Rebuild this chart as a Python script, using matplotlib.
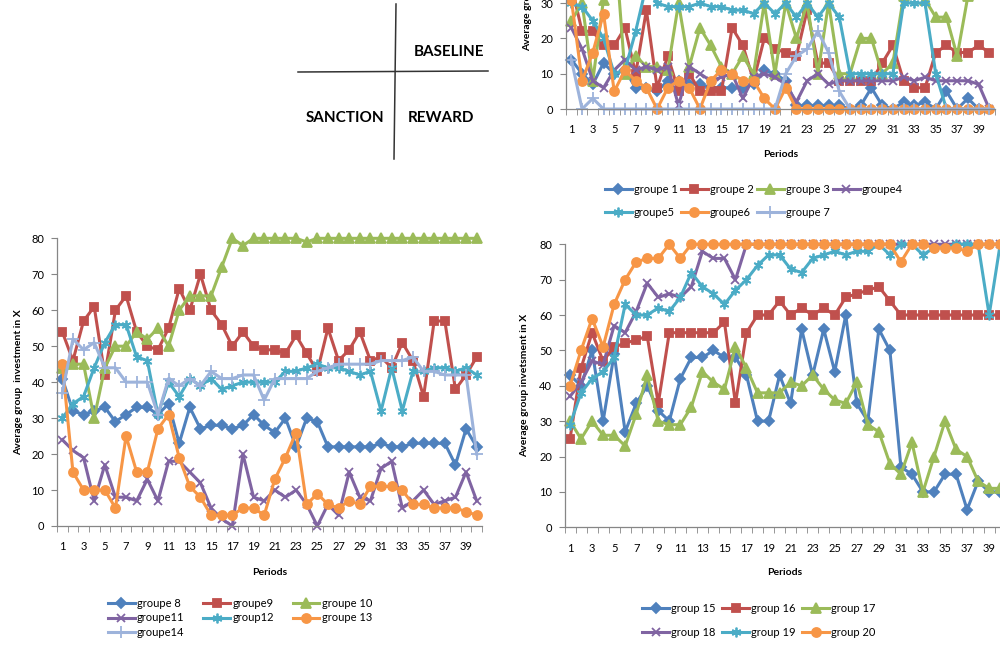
import matplotlib
matplotlib.use('Agg')
import matplotlib.pyplot as plt
from matplotlib.lines import Line2D
import numpy as np

plt.rcParams['font.family'] = ['Lato', 'DejaVu Sans']

periods = np.arange(1, 41)

# BASELINE (top right)
g1 = [14, 10, 7, 13, 10, 11, 6, 6, 5, 8, 8, 7, 7, 6, 6, 6, 6, 7, 11, 10,
      8, 1, 1, 1, 1, 1, 0, 1, 6, 1, 0, 2, 1, 2, 0, 5, 0, 3, 0, 0]
g2 = [35, 22, 22, 18, 18, 23, 10, 28, 6, 15, 5, 10, 5, 5, 5, 23, 18, 8, 20, 17,
      16, 15, 28, 13, 13, 8, 8, 8, 8, 13, 18, 8, 6, 6, 16, 18, 16, 16, 18, 16]
g3 = [25, 30, 8, 31, 50, 10, 15, 12, 12, 11, 30, 12, 23, 18, 12, 10, 15, 10, 30, 10,
      30, 20, 30, 10, 30, 10, 10, 20, 20, 10, 13, 32, 40, 31, 26, 26, 15, 32, 40, 40]
g4 = [23, 17, 8, 6, 11, 14, 11, 12, 11, 12, 1, 12, 10, 8, 9, 10, 3, 9, 10, 9,
      7, 2, 8, 10, 7, 8, 8, 8, 8, 8, 8, 9, 8, 9, 8, 8, 8, 8, 7, 0]
g5 = [30, 29, 25, 20, 10, 11, 22, 35, 30, 29, 29, 29, 30, 29, 29, 28, 28, 27, 30, 27,
      30, 26, 30, 26, 30, 26, 10, 10, 10, 10, 10, 30, 30, 30, 10, 0, 0, 0, 0, 0]
g6 = [31, 8, 16, 27, 5, 11, 8, 6, 0, 6, 8, 6, 0, 8, 11, 10, 8, 8, 3, 0,
      6, 0, 0, 0, 0, 0, 0, 0, 0, 0, 0, 0, 0, 0, 0, 0, 0, 0, 0, 0]
g7 = [14, 0, 3, 0, 0, 0, 0, 0, 0, 0, 0, 0, 0, 0, 0, 0, 0, 0, 0, 0,
      10, 15, 17, 22, 16, 5, 0, 0, 0, 0, 0, 0, 0, 0, 0, 0, 0, 0, 0, 0]

# SANCTION (bottom left)
g8 = [41, 32, 31, 32, 33, 29, 31, 33, 33, 31, 34, 23, 33, 27, 28, 28, 27, 28, 31, 28,
      26, 30, 22, 30, 29, 22, 22, 22, 22, 22, 23, 22, 22, 23, 23, 23, 23, 17, 27, 22]
g9 = [54, 46, 57, 61, 42, 60, 64, 54, 50, 49, 55, 66, 60, 70, 60, 56, 50, 54, 50, 49,
      49, 48, 53, 48, 43, 55, 46, 49, 54, 46, 47, 44, 51, 46, 36, 57, 57, 38, 42, 47]
g10 = [44, 45, 45, 30, 44, 50, 50, 54, 52, 55, 50, 60, 64, 64, 64, 72, 80, 78, 80, 80,
       80, 80, 80, 79, 80, 80, 80, 80, 80, 80, 80, 80, 80, 80, 80, 80, 80, 80, 80, 80]
g11 = [24, 21, 19, 7, 17, 8, 8, 7, 13, 7, 18, 18, 15, 12, 5, 2, 0, 20, 8, 7,
       10, 8, 10, 6, 0, 6, 3, 15, 8, 7, 16, 18, 5, 7, 10, 6, 7, 8, 15, 7]
g12 = [30, 34, 36, 44, 51, 56, 56, 47, 46, 31, 40, 36, 41, 39, 41, 38, 39, 40, 40, 40,
       40, 43, 43, 44, 45, 44, 44, 43, 42, 43, 32, 44, 32, 43, 43, 44, 44, 43, 44, 42]
g13 = [45, 15, 10, 10, 10, 5, 25, 15, 15, 27, 31, 19, 11, 8, 3, 3, 3, 5, 5, 3,
       13, 19, 26, 6, 9, 6, 5, 7, 6, 11, 11, 11, 10, 6, 6, 5, 5, 5, 4, 3]
g14 = [37, 52, 49, 51, 44, 44, 40, 40, 40, 31, 41, 39, 41, 39, 43, 41, 41, 42, 42, 35,
       41, 41, 41, 41, 43, 44, 45, 45, 45, 45, 46, 46, 46, 47, 43, 43, 42, 42, 42, 20]

# REWARD (bottom right)
g15 = [43, 40, 50, 30, 49, 27, 35, 40, 33, 30, 42, 48, 48, 50, 48, 48, 43, 30, 30, 43,
       35, 56, 43, 56, 44, 60, 35, 30, 56, 50, 17, 15, 10, 10, 15, 15, 5, 13, 10, 10]
g16 = [25, 45, 55, 47, 51, 52, 53, 54, 35, 55, 55, 55, 55, 55, 58, 35, 55, 60, 60, 64,
       60, 62, 60, 62, 60, 65, 66, 67, 68, 64, 60, 60, 60, 60, 60, 60, 60, 60, 60, 60]
g17 = [30, 25, 30, 26, 26, 23, 32, 43, 30, 29, 29, 34, 44, 41, 39, 51, 45, 38, 38, 38,
       41, 40, 43, 39, 36, 35, 41, 29, 27, 18, 15, 24, 10, 20, 30, 22, 20, 13, 11, 11]
g18 = [37, 41, 47, 46, 57, 55, 61, 69, 65, 66, 65, 68, 78, 76, 76, 70, 80, 80, 80, 80,
       80, 80, 80, 80, 80, 80, 80, 80, 80, 80, 80, 80, 80, 80, 80, 80, 80, 80, 80, 80]
g19 = [29, 38, 42, 44, 48, 63, 60, 60, 62, 61, 65, 72, 68, 66, 63, 67, 70, 74, 77, 77,
       73, 72, 76, 77, 78, 77, 78, 78, 80, 77, 80, 80, 77, 79, 79, 80, 80, 80, 60, 80]
g20 = [40, 50, 59, 51, 63, 70, 75, 76, 76, 80, 76, 80, 80, 80, 80, 80, 80, 80, 80, 80,
       80, 80, 80, 80, 80, 80, 80, 80, 80, 80, 75, 80, 80, 79, 79, 79, 78, 80, 80, 80]

baseline_labels = ['groupe 1', 'groupe 2', 'groupe 3', 'groupe4', 'groupe5', 'groupe6', 'groupe 7']
sanction_labels = ['groupe 8', 'groupe9', 'groupe 10', 'groupe11', 'group12', 'groupe 13', 'groupe14']
reward_labels = ['group 15', 'group 16', 'group 17', 'group 18', 'group 19', 'group 20']

colors = ['#4F81BD', '#C0504D', '#9BBB59', '#8064A2', '#4BACC6', '#F79646', '#9DB3DB']
markers = ['D', 's', '^', 'x', (6, 2, 0), 'o', '+']
msizes = [5, 6, 6.5, 6, 7, 6.5, 8]
axis_grey = '#868686'


def panel(rect, series, labels, ylabel, ylab_y, leg_order, ncol, leg_center, labspace, colspace):
    ax = fig.add_axes(rect)
    handles = []
    for i, (vals, lab) in enumerate(zip(series, labels)):
        h, = ax.plot(periods, vals, color=colors[i], lw=2.2, marker=markers[i],
                     ms=msizes[i], mew=1.3, label=lab, clip_on=False)
        handles.append(h)
    ax.set_xlim(0.5, 40.5)
    ax.set_ylim(0, 80)
    ax.set_yticks(range(0, 81, 10))
    ax.set_xticks(range(1, 40, 2))
    ax.set_xticks(np.arange(0.5, 41, 1), minor=True)
    for s in ['top', 'right']:
        ax.spines[s].set_visible(False)
    for s in ['left', 'bottom']:
        ax.spines[s].set_color(axis_grey)
        ax.spines[s].set_linewidth(0.9)
    ax.tick_params(axis='x', which='major', length=0, pad=11, labelsize=8)
    ax.tick_params(axis='x', which='minor', length=4, color=axis_grey, direction='out')
    ax.tick_params(axis='y', length=4, color=axis_grey, direction='out', pad=5, labelsize=8)
    ax.set_xlabel('Periods', fontsize=7.5, fontweight='bold')
    ax.set_ylabel(ylabel, fontsize=7.5, fontweight='bold')
    ax.xaxis.set_label_coords(0.5, -0.145)
    ax.yaxis.set_label_coords(-0.08, ylab_y)
    ax.legend([handles[k] for k in leg_order], [labels[k] for k in leg_order],
              ncol=ncol, loc='center', bbox_to_anchor=leg_center,
              bbox_transform=fig.transFigure, frameon=False, fontsize=8,
              numpoints=1, handlelength=2.4, handletextpad=0.2,
              labelspacing=labspace, columnspacing=colspace)
    return ax


fig = plt.figure(figsize=(10, 6.45), dpi=100)

panel([0.566, 0.831, 0.4287, 0.438], [g1, g2, g3, g4, g5, g6, g7], baseline_labels,
      'Average group investment in X', 0.46, [0, 4, 1, 5, 2, 6, 3], 4, (0.754, 0.688), 1.1, 0.3)

panel([0.057, 0.1845, 0.425, 0.446], [g8, g9, g10, g11, g12, g13, g14], sanction_labels,
      'Average group  investment in X', 0.5, [0, 3, 6, 1, 4, 2, 5], 3, (0.240, 0.042), 0.35, 1.7)

panel([0.5645, 0.1825, 0.4412, 0.4388], [g15, g16, g17, g18, g19, g20], reward_labels,
      'Average group invetsment in X', 0.5, [0, 3, 1, 4, 2, 5], 3, (0.759, 0.038), 1.1, 0.6)

# quadrant sketch
fig.add_artist(Line2D([396 / 1000, 394 / 1000], [1 - 4 / 645, 1 - 159 / 645],
                      color='#333333', lw=1.1))
fig.add_artist(Line2D([298 / 1000, 488 / 1000], [1 - 72 / 645, 1 - 71 / 645],
                      color='#333333', lw=1.1))
fig.text(449 / 1000, 1 - 52 / 645, 'BASELINE', fontsize=11, fontweight='bold',
         ha='center', va='center')
fig.text(345 / 1000, 1 - 118 / 645, 'SANCTION', fontsize=11, fontweight='bold',
         ha='center', va='center')
fig.text(441 / 1000, 1 - 118 / 645, 'REWARD', fontsize=11, fontweight='bold',
         ha='center', va='center')

fig.savefig('out.png', dpi=100)
